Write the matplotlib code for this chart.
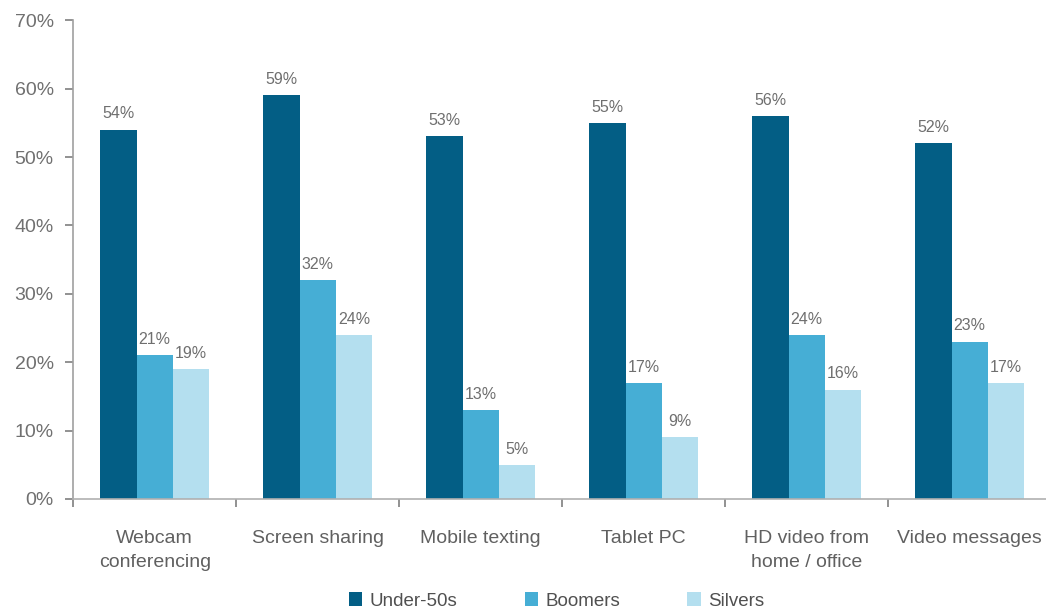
import numpy as np
import matplotlib.pyplot as plt
from matplotlib.ticker import FuncFormatter, FixedLocator

plt.rcParams['font.family'] = ['Liberation Sans', 'DejaVu Sans']

categories = ["Webcam\nconferencing", "Screen sharing", "Mobile texting",
              "Tablet PC", "HD video from\nhome / office", "Video messages"]
under50 = [54, 59, 53, 55, 56, 52]
boomers = [21, 32, 13, 17, 24, 23]
silvers = [19, 24, 5, 9, 16, 17]

series = [("Under-50s", under50, "#035E85"),
          ("Boomers", boomers, "#46AED5"),
          ("Silvers", silvers, "#B4DFEF")]

grey = "#7f7f7f"
fig = plt.figure(figsize=(10.46, 6.13), dpi=100)
ax = fig.add_axes([0.07, 0.186, 0.935, 0.781])

x = np.arange(len(categories))
w = 0.222
for i, (name, vals, col) in enumerate(series):
    pos = x + (i - 1) * w
    ax.bar(pos, vals, width=w, color=col, label=name, zorder=2)
    for p, v in zip(pos, vals):
        ax.text(p, v + 1.2, f"{v}%", ha="center", va="bottom",
                fontsize=11.5, color="#6f6f6f")

ax.set_xlim(-0.5, len(categories) - 0.5)
ax.set_ylim(0, 70)
ax.set_yticks(range(0, 71, 10))
ax.yaxis.set_major_formatter(FuncFormatter(lambda v, _: f"{v:.0f}%"))
ax.tick_params(axis="y", labelsize=14, colors=grey, labelcolor="#707070",
               length=6, width=1.2, pad=8)

ax.set_xticks(x)
ax.set_xticklabels(categories, fontsize=14, color="#606060", linespacing=1.55)
ax.tick_params(axis="x", length=0, pad=22)
ax.xaxis.set_minor_locator(FixedLocator(np.arange(-0.5, len(categories), 1)))
ax.tick_params(axis="x", which="minor", length=6, width=1.2, color=grey)

for s in ["top", "right"]:
    ax.spines[s].set_visible(False)
ax.spines["left"].set_color("#a0a0a0")
ax.spines["bottom"].set_color("#b0b0b0")
ax.spines["left"].set_linewidth(1.2)
ax.spines["bottom"].set_linewidth(1.2)

leg = fig.legend(loc="lower center", bbox_to_anchor=(0.532, -0.022), ncol=3,
                 frameon=False, fontsize=13.5, handlelength=0.7, handleheight=0.7,
                 handletextpad=0.4, columnspacing=3.6)
for t in leg.get_texts():
    t.set_color("#505050")

fig.savefig("out.png", dpi=100)
